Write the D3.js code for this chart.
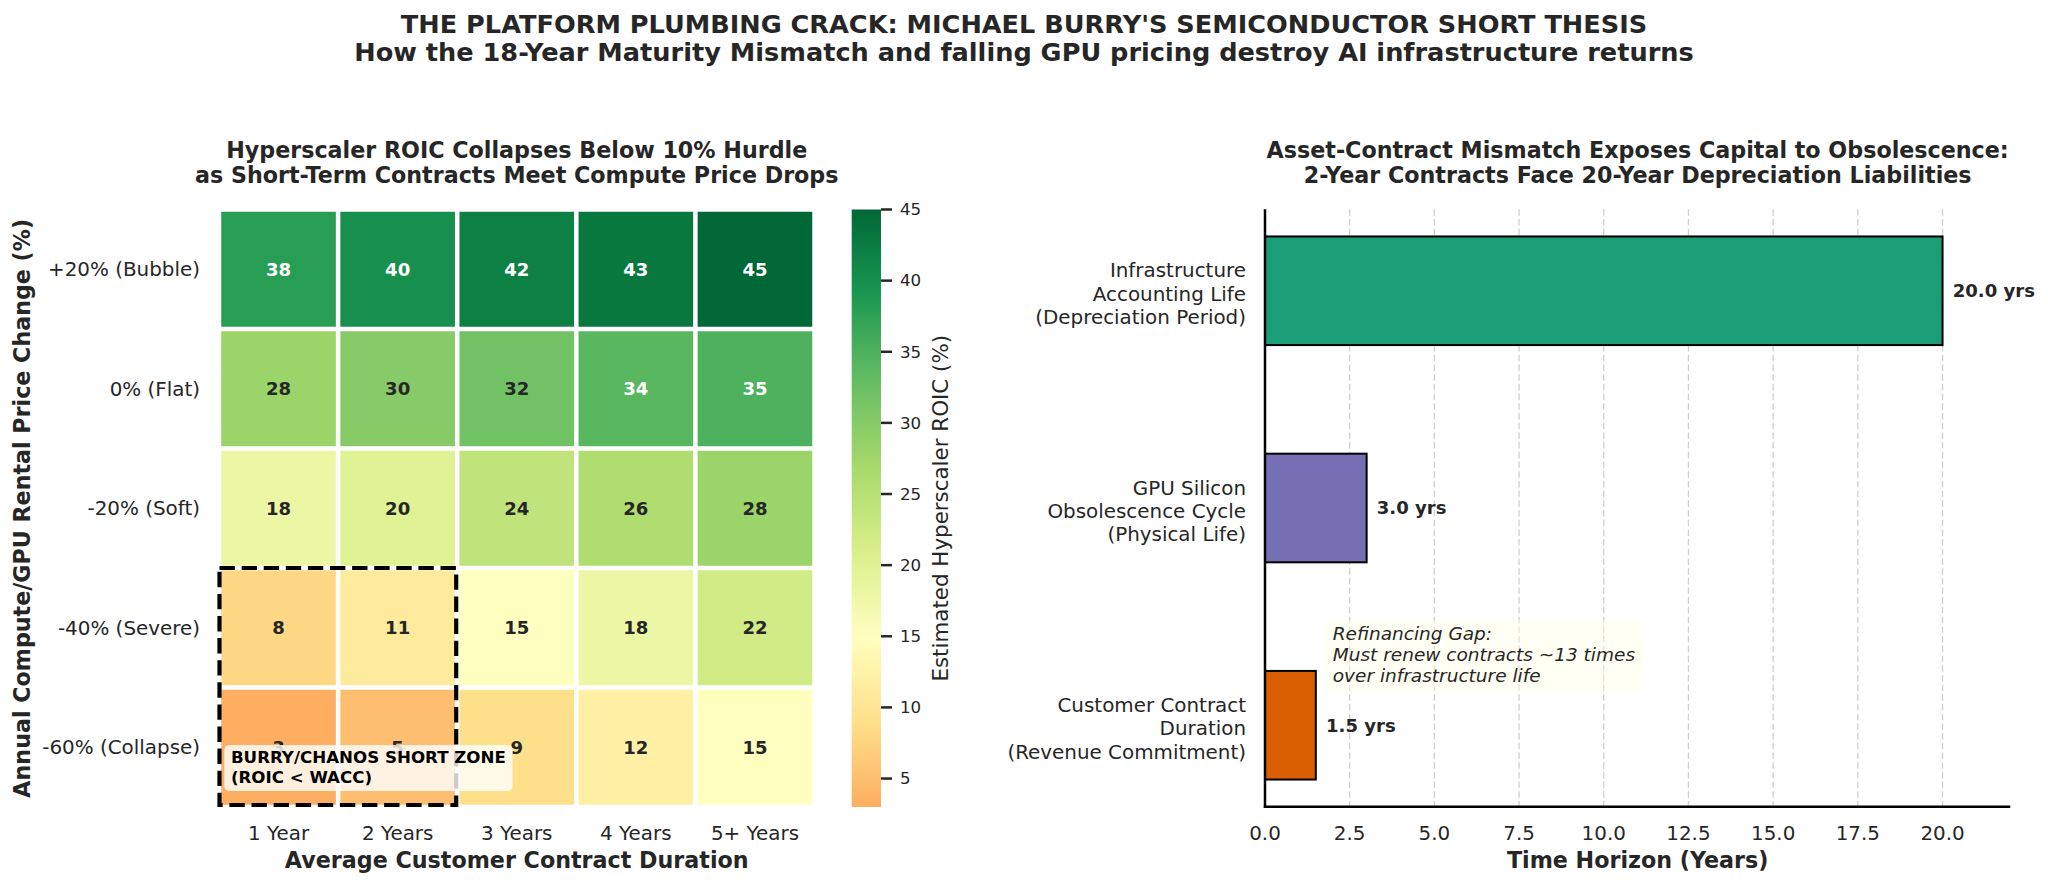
<!DOCTYPE html>
<html>
<head>
<meta charset="utf-8">
<script src="https://cdn.jsdelivr.net/npm/d3@7"></script>
<style>
  html, body { margin: 0; padding: 0; background: #ffffff; }
  svg { display: block; font-family: "DejaVu Sans", sans-serif; }
</style>
</head>
<body>
<svg id="chart" width="2048" height="886"></svg>
<script>
// ---------------- DATA ----------------
const suptitleLines = [
  "THE PLATFORM PLUMBING CRACK: MICHAEL BURRY'S SEMICONDUCTOR SHORT THESIS",
  "How the 18-Year Maturity Mismatch and falling GPU pricing destroy AI infrastructure returns"
];
const heatmapTitle = [
  "Hyperscaler ROIC Collapses Below 10% Hurdle",
  "as Short-Term Contracts Meet Compute Price Drops"
];
const contractDurations = ["1 Year", "2 Years", "3 Years", "4 Years", "5+ Years"];
const priceScenarios = ["+20% (Bubble)", "0% (Flat)", "-20% (Soft)", "-40% (Severe)", "-60% (Collapse)"];
const roicValues = [
  [38, 40, 42, 43, 45],
  [28, 30, 32, 34, 35],
  [18, 20, 24, 26, 28],
  [8, 11, 15, 18, 22],
  [3, 5, 9, 12, 15]
];
const colorbarTicks = [5, 10, 15, 20, 25, 30, 35, 40, 45];
const colorbarLabel = "Estimated Hyperscaler ROIC (%)";
const heatmapXLabel = "Average Customer Contract Duration";
const heatmapYLabel = "Annual Compute/GPU Rental Price Change (%)";
const shortZoneCols = ["1 Year", "2 Years"];
const shortZoneRows = ["-40% (Severe)", "-60% (Collapse)"];
const shortZoneText = ["BURRY/CHANOS SHORT ZONE", "(ROIC < WACC)"];

const barTitle = [
  "Asset-Contract Mismatch Exposes Capital to Obsolescence:",
  "2-Year Contracts Face 20-Year Depreciation Liabilities"
];
const horizonCategories = [
  ["Infrastructure", "Accounting Life", "(Depreciation Period)"],
  ["GPU Silicon", "Obsolescence Cycle", "(Physical Life)"],
  ["Customer Contract", "Duration", "(Revenue Commitment)"]
];
const horizonYears = [20.0, 3.0, 1.5];
const horizonColors = ["#1b9e77", "#7570b3", "#d95f02"];
const timeTicks = [0, 2.5, 5, 7.5, 10, 12.5, 15, 17.5, 20];
const barXLabel = "Time Horizon (Years)";
const gapNote = ["Refinancing Gap:", "Must renew contracts ~13 times", "over infrastructure life"];

// ---------------- SETUP ----------------
const svg = d3.select("#chart");
const TEXT = "#262626";
const pt = v => v * 100 / 72;
const TICK_FS = 19.9;

// Suptitle
svg.append("g").selectAll("text").data(suptitleLines).join("text")
  .attr("x", 1024).attr("y", (d, i) => 32.7 + i * 28.3)
  .attr("text-anchor", "middle").attr("font-weight", "bold")
  .attr("font-size", 25.6).attr("fill", TEXT).text(d => d);

// ---------------- HEATMAP ----------------
const hm = { x0: 219, x1: 814.5, y0: 209.5, y1: 807 };
const xB = d3.scaleBand().domain(contractDurations).range([hm.x0, hm.x1]);
const yB = d3.scaleBand().domain(priceScenarios).range([hm.y0, hm.y1]);
const yRow = d3.scaleLinear().domain([0, priceScenarios.length]).range([hm.y0, hm.y1]);
const xCol = d3.scaleLinear().domain([0, contractDurations.length]).range([hm.x0, hm.x1]);

const vmin = d3.min(roicValues.flat()), vmax = d3.max(roicValues.flat());
const center = 15;
const vrange = Math.max(vmax - center, center - vmin);
const rdylgn = ["#a50026","#d73027","#f46d43","#fdae61","#fee08b","#ffffbf","#d9ef8b","#a6d96a","#66bd63","#1a9850","#006837"];
const color = d3.scaleLinear()
  .domain(rdylgn.map((c, i) => center - vrange + i * (2 * vrange) / (rdylgn.length - 1)))
  .range(rdylgn).interpolate(d3.interpolateRgb).clamp(true);

function lum(c) {
  const r = d3.rgb(c);
  const f = v => { v /= 255; return v <= 0.03928 ? v / 12.92 : Math.pow((v + 0.055) / 1.055, 2.4); };
  return 0.2126 * f(r.r) + 0.7152 * f(r.g) + 0.0722 * f(r.b);
}

const cells = [];
priceScenarios.forEach((r, i) => contractDurations.forEach((c, j) => cells.push({ r, c, v: roicValues[i][j] })));
const gap = 4.5;
const gH = svg.append("g");
gH.selectAll("rect.cell").data(cells).join("rect").attr("class", "cell")
  .attr("x", d => xB(d.c) + gap / 2).attr("y", d => yB(d.r) + gap / 2)
  .attr("width", xB.bandwidth() - gap).attr("height", yB.bandwidth() - gap)
  .attr("fill", d => color(d.v));
gH.selectAll("text.val").data(cells).join("text").attr("class", "val")
  .attr("x", d => xB(d.c) + xB.bandwidth() / 2)
  .attr("y", d => yB(d.r) + yB.bandwidth() / 2 + 0.35 * pt(13))
  .attr("text-anchor", "middle").attr("font-weight", "bold").attr("font-size", pt(13))
  .attr("fill", d => lum(color(d.v)) > 0.408 ? TEXT : "#ffffff")
  .text(d => d.v);

// x tick labels
gH.selectAll("text.xt").data(contractDurations).join("text").attr("class", "xt")
  .attr("x", d => xB(d) + xB.bandwidth() / 2).attr("y", 840)
  .attr("text-anchor", "middle").attr("font-size", TICK_FS).attr("fill", TEXT).text(d => d);
// y tick labels
gH.selectAll("text.yt").data(priceScenarios).join("text").attr("class", "yt")
  .attr("x", 200).attr("y", d => yB(d) + yB.bandwidth() / 2 + 0.35 * TICK_FS)
  .attr("text-anchor", "end").attr("font-size", TICK_FS).attr("fill", TEXT).text(d => d);
// axis labels
gH.append("text").attr("x", (hm.x0 + hm.x1) / 2).attr("y", 868.3)
  .attr("text-anchor", "middle").attr("font-weight", "bold").attr("font-size", pt(16))
  .attr("fill", TEXT).text(heatmapXLabel);
gH.append("text").attr("transform", `translate(29.6,${(hm.y0 + hm.y1) / 2}) rotate(-90)`)
  .attr("text-anchor", "middle").attr("font-weight", "bold").attr("font-size", 22.2)
  .attr("fill", TEXT).text(heatmapYLabel);
// title
gH.selectAll("text.ttl").data(heatmapTitle).join("text").attr("class", "ttl")
  .attr("x", (hm.x0 + hm.x1) / 2).attr("y", (d, i) => 158.3 + i * 25)
  .attr("text-anchor", "middle").attr("font-weight", "bold").attr("font-size", pt(16))
  .attr("fill", TEXT).text(d => d);

// short zone dashed rectangle
const zx0 = xB(shortZoneCols[0]), zx1 = xB(shortZoneCols[shortZoneCols.length - 1]) + xB.bandwidth();
const zy0 = yB(shortZoneRows[0]), zy1 = yB(shortZoneRows[shortZoneRows.length - 1]) + yB.bandwidth();
gH.append("rect").attr("x", zx0 + 0.5).attr("y", zy0).attr("width", zx1 - zx0 - 1.5).attr("height", zy1 - zy0 - 2)
  .attr("fill", "none").attr("stroke", "#000").attr("stroke-width", 4.2)
  .attr("stroke-dasharray", "15.4,6.7");

// short zone text box
{
  const fs = pt(12);
  const tx = xCol(0.1), b1 = yRow(4.634);
  const g = gH.append("g");
  const rect = g.append("rect");
  const t = g.append("text").attr("font-weight", "bold").attr("font-size", fs).attr("fill", "#000");
  t.selectAll("tspan").data(shortZoneText).join("tspan")
    .attr("x", tx).attr("y", (d, i) => b1 + i * 1.16 * fs).text(d => d);
  const bb = t.node().getBBox();
  const pad = 0.4 * fs;
  rect.attr("x", tx - pad).attr("y", b1 - 1.1 * fs)
    .attr("width", bb.width + 2 * pad)
    .attr("height", (shortZoneText.length - 1) * 1.16 * fs + 1.6 * fs)
    .attr("rx", 5).attr("fill", "#ffffff").attr("fill-opacity", 0.8);
}

// colorbar
const cb = { x0: 851.7, x1: 881 };
const cbScale = d3.scaleLinear().domain([vmin, vmax]).range([hm.y1, hm.y0]);
const defs = svg.append("defs");
const grad = defs.append("linearGradient").attr("id", "cbgrad")
  .attr("x1", 0).attr("y1", 1).attr("x2", 0).attr("y2", 0);
d3.range(0, 1.0001, 0.02).forEach(t => {
  grad.append("stop").attr("offset", t).attr("stop-color", color(vmin + t * (vmax - vmin)));
});
const gC = svg.append("g");
gC.append("rect").attr("x", cb.x0).attr("y", hm.y0).attr("width", cb.x1 - cb.x0)
  .attr("height", hm.y1 - hm.y0).attr("fill", "url(#cbgrad)");
gC.selectAll("line").data(colorbarTicks).join("line")
  .attr("x1", cb.x1).attr("x2", cb.x1 + 11).attr("y1", d => cbScale(d)).attr("y2", d => cbScale(d))
  .attr("stroke", TEXT).attr("stroke-width", 2.5);
gC.selectAll("text").data(colorbarTicks).join("text")
  .attr("x", 900).attr("y", d => cbScale(d) + 0.35 * pt(12))
  .attr("font-size", pt(12)).attr("fill", TEXT).text(d => d);
gC.append("text").attr("transform", `translate(948,${(hm.y0 + hm.y1) / 2}) rotate(-90)`)
  .attr("text-anchor", "middle").attr("font-size", 21.4).attr("fill", TEXT).text(colorbarLabel);

// ---------------- BAR CHART ----------------
const bc = { x0: 1265, x1: 2010.3, y0: 209.3, y1: 806.7 };
const keys = horizonCategories.map(d => d.join(" "));
const xT = d3.scaleLinear().domain([0, 22]).range([bc.x0, bc.x1]);
const yC = d3.scaleBand().domain(keys).range([bc.y0, bc.y1]).paddingInner(0.5).paddingOuter(0.125);
const yV = d3.scaleLinear().domain([-0.375, 2.375]).range([bc.y1, bc.y0]);
const gB = svg.append("g");

// grid
gB.selectAll("line.grid").data(timeTicks.filter(d => d > 0)).join("line").attr("class", "grid")
  .attr("x1", d => xT(d)).attr("x2", d => xT(d)).attr("y1", bc.y0).attr("y2", bc.y1)
  .attr("stroke", "#cfcfcf").attr("stroke-width", 1.3).attr("stroke-dasharray", "6.5,3.2");

// bars
const bars = horizonYears.map((v, i) => ({ k: keys[i], v, c: horizonColors[i], lines: horizonCategories[i] }));
gB.selectAll("rect.bar").data(bars).join("rect").attr("class", "bar")
  .attr("x", xT(0)).attr("y", d => yC(d.k))
  .attr("width", d => xT(d.v) - xT(0)).attr("height", yC.bandwidth())
  .attr("fill", d => d.c).attr("stroke", "#000").attr("stroke-width", 2);

// value labels
gB.selectAll("text.vl").data(bars).join("text").attr("class", "vl")
  .attr("x", d => xT(d.v + 0.3)).attr("y", d => yC(d.k) + yC.bandwidth() / 2 + 0.35 * pt(13))
  .attr("font-weight", "bold").attr("font-size", pt(13)).attr("fill", TEXT)
  .text(d => d3.format(".1f")(d.v) + " yrs");

// spines
gB.append("line").attr("x1", bc.x0).attr("x2", bc.x0).attr("y1", bc.y0).attr("y2", bc.y1 + 1.2)
  .attr("stroke", "#000").attr("stroke-width", 2.5);
gB.append("line").attr("x1", bc.x0 - 1.2).attr("x2", bc.x1).attr("y1", bc.y1).attr("y2", bc.y1)
  .attr("stroke", "#000").attr("stroke-width", 2.5);

// x tick labels
gB.selectAll("text.xt").data(timeTicks).join("text").attr("class", "xt")
  .attr("x", d => xT(d)).attr("y", 840).attr("text-anchor", "middle")
  .attr("font-size", TICK_FS).attr("fill", TEXT).text(d => d3.format(".1f")(d));
// y tick labels
const yl = gB.selectAll("text.yt").data(bars).join("text").attr("class", "yt")
  .attr("text-anchor", "end").attr("font-size", TICK_FS).attr("fill", TEXT);
yl.each(function (d) {
  const c = yC(d.k) + yC.bandwidth() / 2;
  const n = d.lines.length;
  d3.select(this).selectAll("tspan").data(d.lines).join("tspan")
    .attr("x", 1246).attr("y", (l, i) => c + 10 + (i - (n - 1) / 2) * 23.3).text(l => l);
});
// x label
gB.append("text").attr("x", (bc.x0 + bc.x1) / 2).attr("y", 868.3).attr("text-anchor", "middle")
  .attr("font-weight", "bold").attr("font-size", pt(16)).attr("fill", TEXT).text(barXLabel);
// title
gB.selectAll("text.ttl").data(barTitle).join("text").attr("class", "ttl")
  .attr("x", (bc.x0 + bc.x1) / 2).attr("y", (d, i) => 158.3 + i * 25)
  .attr("text-anchor", "middle").attr("font-weight", "bold").attr("font-size", pt(16))
  .attr("fill", TEXT).text(d => d);

// refinancing note
{
  const fs = 18.5, lh = 20.9;
  const tx = xT(2.0), b1 = yV(0.392);
  const g = gB.append("g");
  const rect = g.append("rect");
  const t = g.append("text").attr("font-style", "italic").attr("font-size", fs).attr("fill", TEXT);
  t.selectAll("tspan").data(gapNote).join("tspan")
    .attr("x", tx).attr("y", (d, i) => b1 + i * lh).text(d => d);
  const bb = t.node().getBBox();
  const pad = 7;
  rect.attr("x", tx - pad).attr("y", b1 - 20)
    .attr("width", bb.width + 2 * pad)
    .attr("height", (gapNote.length - 1) * lh + 29)
    .attr("rx", 5).attr("fill", "#ffffe0").attr("fill-opacity", 0.4);
}
</script>
</body>
</html>
